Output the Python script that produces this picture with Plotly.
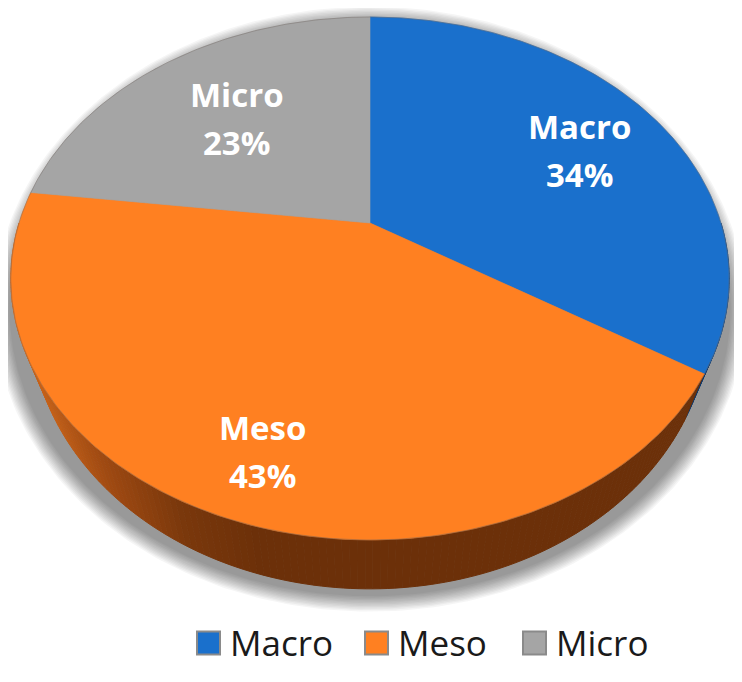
import numpy as np
import plotly.graph_objects as go

# ---- data ----
categories = ["Macro", "Meso", "Micro"]
values = [34, 43, 23]
pct_labels = ["34%", "43%", "23%"]

# ---- style ----
top_colors = ["#1A70CC", "#FF8021", "#A5A5A5"]
wall_base = [(16, 58, 108), None, (90, 90, 90)]   # None -> orange gradient
label_radius = [0.70, 0.80, 0.60]
label_shift = [(9, 6), (6, 5), (-6, -2)]
W, H = 742, 682
PAD = 8  # page body margin

# perspective projection of the disk (pixel space)
CX, A, B, C0, K, DEPTH, SHRINK = 370.0, 351.0, 202.4, 223.0, 0.2122, 38.5, 0.945


def proj(phi, r=1.0):
    u = r * np.sin(phi)
    v = r * np.cos(phi)
    den = 1 + K * v
    x = CX + A * u / den
    y = (C0 - B * v) / den
    return x, y


def proj_bottom(phi):
    x, y = proj(phi)
    den = 1 + K * np.cos(phi)
    return CX + (x - CX) * SHRINK, y + DEPTH / den


def orange_wall_color(x):
    xs = [0, 40, 100, 180, 260, 800]
    rs = [205, 196, 160, 122, 108, 108]
    gs = [100, 96, 74, 56, 48, 48]
    bs = [26, 24, 18, 12, 9, 9]
    r = np.interp(x, xs, rs); g = np.interp(x, xs, gs); b = np.interp(x, xs, bs)
    return f"rgb({int(r)},{int(g)},{int(b)})"


total = float(sum(values))
fr = np.array(values) / total
ends = np.cumsum(fr) * 2 * np.pi
starts = np.concatenate([[0.0], ends[:-1]])

fig = go.Figure()

# ---- soft shadow ----
ph = np.linspace(0, 2 * np.pi, 400)
tx, ty = proj(ph)
den = 1 + K * np.cos(ph)
sil_x = tx
sil_y = ty + (DEPTH / den) * (1 - np.cos(ph)) / 2
for j in range(12, 0, -1):
    e = j * 1.4
    sx = CX + (sil_x - CX) * (1 + e / 360)
    sy = 300 + (sil_y - 300) * (1 + e / 290) + 6
    fig.add_trace(go.Scatter(x=sx, y=sy, fill="toself", mode="lines",
                             line=dict(width=0), fillcolor="rgba(0,0,0,0.04)",
                             hoverinfo="skip", showlegend=False))

# ---- side walls (front half; back parts get covered by the top face) ----
lo_vis, hi_vis = np.pi / 2, 3 * np.pi / 2
for i, (s, e) in enumerate(zip(starts, ends)):
    lo, hi = max(s, lo_vis), min(e, hi_vis)
    if hi <= lo:
        continue
    n = max(2, int(np.degrees(hi - lo) / 1.0))
    edges = np.linspace(lo, hi, n + 1)
    for k in range(n):
        p = np.linspace(edges[k], edges[k + 1], 4)
        xt, yt = proj(p)
        xb, yb = proj_bottom(p[::-1])
        xm = float(np.mean(xt))
        if wall_base[i] is None:
            col = orange_wall_color(xm)
        else:
            col = "rgb(%d,%d,%d)" % wall_base[i]
        fig.add_trace(go.Scatter(x=np.concatenate([xt, xb]), y=np.concatenate([yt, yb]),
                                 fill="toself", mode="lines", line=dict(width=1, color=col),
                                 fillcolor=col, hoverinfo="skip", showlegend=False))

# ---- top faces ----
for i, (s, e) in enumerate(zip(starts, ends)):
    p = np.linspace(s, e, 200)
    xr, yr = proj(p)
    x0, y0 = proj(0.0, r=0.0)
    fig.add_trace(go.Scatter(x=np.concatenate([[x0], xr, [x0]]),
                             y=np.concatenate([[y0], yr, [y0]]),
                             fill="toself", mode="lines", line=dict(width=0.6, color=top_colors[i]),
                             fillcolor=top_colors[i], hoverinfo="skip", showlegend=False))

# rim outline
fig.add_trace(go.Scatter(x=tx, y=ty, mode="lines",
                         line=dict(width=1, color="rgba(110,100,95,0.4)"),
                         hoverinfo="skip", showlegend=False))

# ---- labels ----
annotations = []
for i, (s, e) in enumerate(zip(starts, ends)):
    mid = (s + e) / 2
    lx, ly = proj(mid, r=label_radius[i])
    lx += label_shift[i][0]
    ly += label_shift[i][1]
    for txt, dy in ((categories[i], -24), (pct_labels[i], 24)):
        annotations.append(dict(x=float(lx), y=float(ly) + dy, text="<b>%s</b>" % txt,
                                showarrow=False, xanchor="center", yanchor="middle",
                                font=dict(family="Open Sans", size=33, color="white")))

# ---- legend (manual) ----
leg_sq_x = [197, 365, 523]
leg_y = 643
sq = 23
shapes = []
for i, cat in enumerate(categories):
    x0 = leg_sq_x[i]
    shapes.append(dict(type="rect", xref="x", yref="y", x0=x0, x1=x0 + sq,
                       y0=leg_y - sq / 2, y1=leg_y + sq / 2,
                       fillcolor=top_colors[i], line=dict(color="#8a8a8a", width=2)))
    annotations.append(dict(x=x0 + sq + 8, y=leg_y - 1, text=cat, showarrow=False,
                            xanchor="left", yanchor="middle",
                            font=dict(family="Open Sans", size=35, color="#1a1a1a")))

fig.update_layout(
    width=W - PAD, height=H - PAD, margin=dict(l=0, r=0, t=0, b=0),
    paper_bgcolor="white", plot_bgcolor="white",
    xaxis=dict(range=[PAD, W], visible=False, fixedrange=True),
    yaxis=dict(range=[H, PAD], visible=False, fixedrange=True),
    shapes=shapes, annotations=annotations, showlegend=False,
)
fig.write_html("out.html")
